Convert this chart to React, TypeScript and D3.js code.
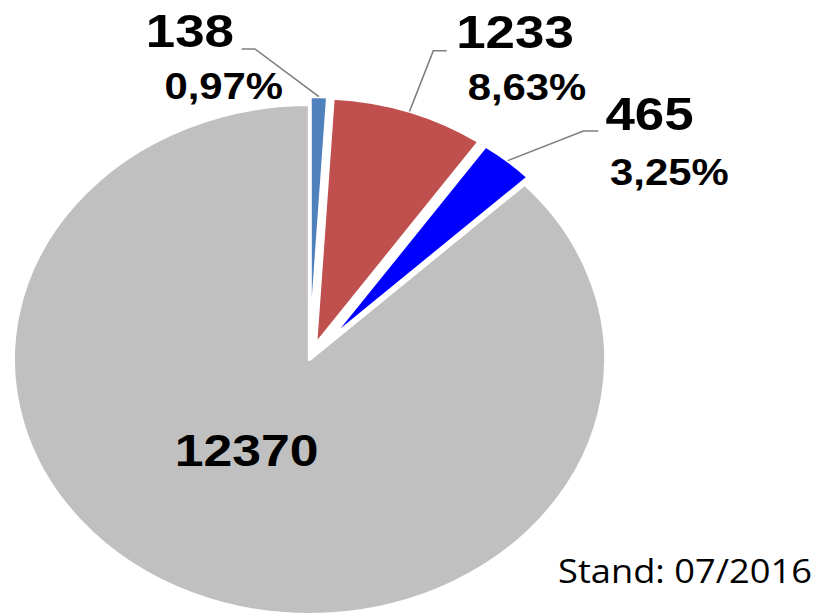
import * as d3 from "d3";

// slice data, clockwise from 12 o'clock
const names = ["a", "b", "c", "d"];
const values = [138, 1233, 465, 12370];
const valueLabels = ["138", "1233", "465", "12370"];
const pctLabels = ["0,97%", "8,63%", "3,25%", ""];
const colors = ["#4F81BD", "#C0504D", "#0000FF", "#C0C0C0"];

// layout (local units, before horizontal stretch)
const K = 1.162; // picture is stretched horizontally
const W = 818;
const H = 615;
const CX = 266.4;
const CY = 359.5;
const explode = [12, 15.5, 27, 0];
const radius = [251, 247, 235, 255];
// label anchors: [valueX, valueY, pctX, pctY, elbowX, elbowY, endX, endY]
const labelPos: (number[] | null)[] = [
  [125.5, 47, 141.5, 99.5, 219.4, 49, 208, 49],
  [392.6, 48, 402.5, 100.5, 372.9, 50.7, 384.4, 50.7],
  [521, 130, 525, 185.5, 502, 131, 514.9, 131],
  null,
];
const centerLabel = [150.5, 466];

export default function App() {
  const pie = d3
    .pie<number>()
    .sort(null)
    .value((d) => d)
    .startAngle(0)
    .endAngle(Math.PI * 2);
  const arcs = pie(values);

  return (
    <svg
      width={W}
      height={H}
      style={{ position: "absolute", left: 0, top: 0, display: "block" }}
      fontFamily="'Liberation Sans', Arial, sans-serif"
    >
      <rect width={W} height={H} fill="#fff" />
      <g transform={`scale(${K},1)`}>
        {arcs.map((a, i) => {
          const mid = (a.startAngle + a.endAngle) / 2;
          const cx = CX + explode[i] * Math.sin(mid);
          const cy = CY - explode[i] * Math.cos(mid);
          const path = d3.arc<d3.PieArcDatum<number>>().innerRadius(0).outerRadius(radius[i])(a) ?? "";
          return (
            <path
              key={names[i]}
              d={path}
              transform={`translate(${cx},${cy})`}
              fill={colors[i]}
              stroke="#fff"
              strokeWidth={3}
              strokeLinejoin="round"
            />
          );
        })}
        {arcs.map((a, i) => {
          const lp = labelPos[i];
          if (!lp) return null;
          const mid = (a.startAngle + a.endAngle) / 2;
          const cx = CX + explode[i] * Math.sin(mid);
          const cy = CY - explode[i] * Math.cos(mid);
          const px = cx + radius[i] * Math.sin(mid);
          const py = cy - radius[i] * Math.cos(mid);
          return (
            <g key={"l" + names[i]}>
              <polyline
                points={`${px},${py} ${lp[4]},${lp[5]} ${lp[6]},${lp[7]}`}
                fill="none"
                stroke="#808080"
                strokeWidth={1.4}
              />
              <text x={lp[0]} y={lp[1]} fontSize={45.5} fontWeight="bold" fill="#000">
                {valueLabels[i]}
              </text>
              <text x={lp[2]} y={lp[3]} fontSize={36} fontWeight="bold" fill="#000">
                {pctLabels[i]}
              </text>
            </g>
          );
        })}
        <text x={centerLabel[0]} y={centerLabel[1]} fontSize={44.5} fontWeight="bold" fill="#000">
          {valueLabels[3]}
        </text>
      </g>
      <text
        x={558}
        y={583}
        fontSize={32}
        fontFamily="'Open Sans', 'Noto Sans', sans-serif"
        textLength={254}
        lengthAdjust="spacingAndGlyphs"
        fill="#000"
      >
        Stand: 07/2016
      </text>
    </svg>
  );
}
